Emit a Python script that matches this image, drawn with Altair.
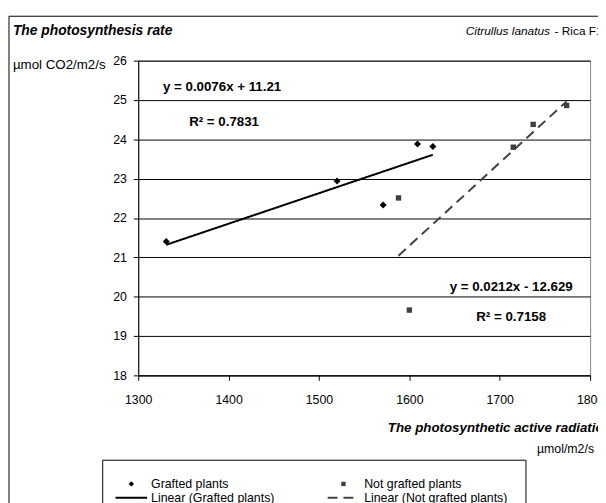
import altair as alt
import pandas as pd

# ---- data ----
grafted_x = [1331, 1520, 1571, 1609, 1626]
grafted_y = [21.40, 22.94, 22.33, 23.88, 23.82]
notgrafted_x = [1588, 1600, 1715, 1737, 1774]
notgrafted_y = [22.51, 19.66, 23.80, 24.38, 24.86]

series_names = ["Grafted plants", "Not grafted plants"]
trend_names = ["Linear (Grafted plants)", "Linear (Not grafted plants)"]
x_ticks = [1300, 1400, 1500, 1600, 1700, 1800]
y_ticks = [18, 19, 20, 21, 22, 23, 24, 25, 26]

eq_grafted = "y = 0.0076x + 11.21"
r2_grafted = "R² = 0.7831"
eq_not = "y = 0.0212x - 12.629"
r2_not = "R² = 0.7158"

title_text = "The photosynthesis rate"
y_unit = "µmol CO2/m2/s"
species = "Citrullus lanatus"
variety = "- Rica F1"
x_title = "The photosynthetic active radiation"
x_unit = "µmol/m2/s"

FONT = "Liberation Sans, Arial, sans-serif"
DARK = "#404040"

df = pd.DataFrame({
    "x": grafted_x + notgrafted_x,
    "y": grafted_y + notgrafted_y,
    "series": [series_names[0]] * len(grafted_x) + [series_names[1]] * len(notgrafted_x),
})

W, H = 458, 319

xscale = alt.Scale(domain=[1300, 1800], nice=False, zero=False)
yscale = alt.Scale(domain=[18, 26], nice=False, zero=False)

xaxis = alt.Axis(values=x_ticks, format="d", grid=False, tickSize=5, labelPadding=14,
                 labelFont=FONT, labelFontSize=12.5, labelColor="black",
                 domainColor="black", tickColor="black", title=None, labelFlush=False)
yaxis = alt.Axis(values=y_ticks, grid=True, gridColor="black", gridWidth=1, tickSize=5,
                 labelPadding=7, labelFont=FONT, labelFontSize=12.5, labelColor="black",
                 domainColor="black", tickColor="black", title=None)

color_scale = alt.Scale(domain=series_names, range=["black", DARK])
shape_scale = alt.Scale(domain=series_names, range=["diamond", "square"])
size_scale = alt.Scale(domain=series_names, range=[50, 30])
dash_scale = alt.Scale(domain=series_names, range=[[1, 0], [10, 6]])

base = alt.Chart(df)

points = base.mark_point(filled=True, opacity=1).encode(
    x=alt.X("x:Q", scale=xscale, axis=xaxis),
    y=alt.Y("y:Q", scale=yscale, axis=yaxis),
    color=alt.Color("series:N", scale=color_scale, legend=None),
    shape=alt.Shape("series:N", scale=shape_scale, legend=None),
    size=alt.Size("series:N", scale=size_scale, legend=None),
)

trend = base.transform_regression(
    "x", "y", groupby=["series"], method="linear"
).mark_line(strokeWidth=2).encode(
    x=alt.X("x:Q", scale=xscale, axis=xaxis),
    y=alt.Y("y:Q", scale=yscale, axis=yaxis),
    color=alt.Color("series:N", scale=color_scale, legend=None),
    strokeDash=alt.StrokeDash("series:N", scale=dash_scale, legend=None),
)


def one():
    return alt.Chart(alt.Data(values=[{"a": 1}]))


def txt(text, x, y, size=13.5, weight="normal", style="normal", align="left"):
    return alt.Chart(alt.Data(values=[{"t": text}])).mark_text(
        font=FONT, fontSize=size, fontWeight=weight, fontStyle=style,
        align=align, baseline="middle", color="black"
    ).encode(x=alt.value(x), y=alt.value(y), text="t:N")


border = one().mark_rect(fill=None, stroke="black", strokeWidth=1).encode(
    x=alt.value(-131), y=alt.value(-45), x2=alt.value(700), y2=alt.value(700))

# legend (drawn as a box under the plot)
R1, R2 = 429, 443
leg_box = one().mark_rect(fill="white", stroke="black", strokeWidth=1).encode(
    x=alt.value(-36), y=alt.value(405), x2=alt.value(393), y2=alt.value(700))
leg_diamond = one().mark_point(shape="diamond", filled=True, size=30, color="black", opacity=1).encode(
    x=alt.value(-7), y=alt.value(R1))
leg_square = one().mark_point(shape="square", filled=True, size=20, color=DARK, opacity=1).encode(
    x=alt.value(208), y=alt.value(R1))
leg_solid = one().mark_rule(strokeWidth=2, color="black").encode(
    x=alt.value(-23), x2=alt.value(9), y=alt.value(R2))
leg_dash = one().mark_rule(strokeWidth=2, color=DARK, strokeDash=[10, 6]).encode(
    x=alt.value(192), x2=alt.value(224), y=alt.value(R2))

annotations = [
    txt(title_text, -127, -30, size=14, weight="bold", style="italic"),
    txt(y_unit, -127, 4, size=13.5),
    txt(species, 332, -30, size=12, style="italic"),
    txt(variety, 422, -30, size=12),
    txt(eq_grafted, 85, 27, weight="bold", align="center"),
    txt(r2_grafted, 87, 62, weight="bold", align="center"),
    txt(eq_not, 378, 229, weight="bold", align="center"),
    txt(r2_not, 378, 260, weight="bold", align="center"),
    txt(x_title, 253, 372, size=13.5, weight="bold", style="italic"),
    txt(x_unit, 462, 394, size=12.5, align="right"),
    txt(series_names[0], 13, R1, size=12.5),
    txt(series_names[1], 229, R1, size=12.5),
    txt(trend_names[0], 13, R2, size=12.5),
    txt(trend_names[1], 229, R2, size=12.5),
]

chart = alt.layer(
    border, trend, points, leg_box, leg_diamond, leg_square, leg_solid, leg_dash, *annotations
).properties(
    width=W, height=H,
    autosize=alt.AutoSizeParams(type="none"),
    padding={"left": 132, "top": 50, "right": 8, "bottom": 126},
).configure_view(stroke="#808080", strokeWidth=1)

chart.save("out.html", embed_options={"renderer": "svg", "actions": False})
